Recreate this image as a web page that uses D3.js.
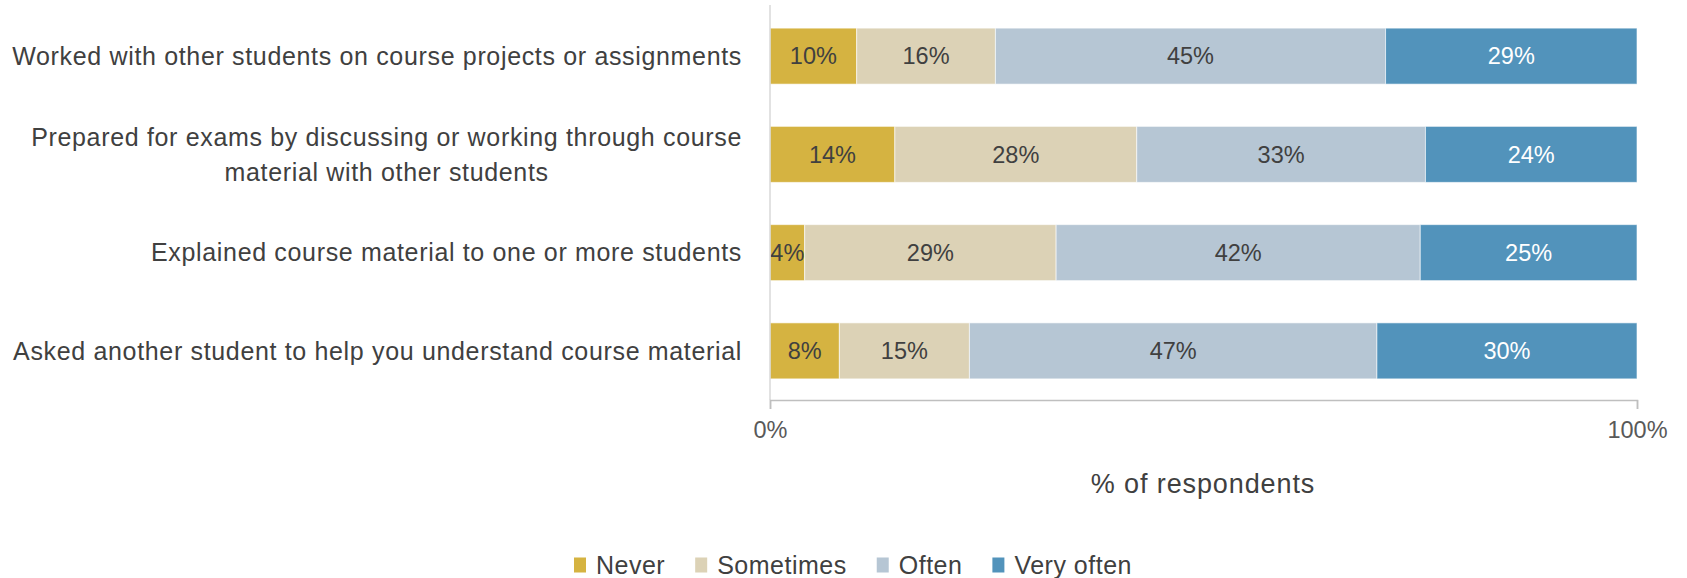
<!DOCTYPE html>
<html>
<head>
<meta charset="utf-8">
<script src="https://cdn.jsdelivr.net/npm/d3@7"></script>
<style>
  html, body { margin: 0; padding: 0; background: #fff; }
  svg { display: block; }
  text { font-family: "Liberation Sans", Arial, sans-serif; }
</style>
</head>
<body>
<svg id="chart" width="1687" height="578"></svg>
<script>
// Survey items, top to bottom; an array entry per wrapped line
const categories = [
  ["Worked with other students on course projects or assignments"],
  ["Prepared for exams by discussing or working through course", "material with other students"],
  ["Explained course material to one or more students"],
  ["Asked another student to help you understand course material"]
];
const seriesNames = ["Never", "Sometimes", "Often", "Very often"];
// shares in percent; labels show the rounded share
const never     = [10, 14.4, 4, 8];
const sometimes = [16, 27.9, 29, 15];
const often     = [45, 33.3, 42, 47];
const veryOften = [29, 24.4, 25, 30];
const seriesColors = ["#D5B341", "#DCD2B6", "#B6C6D4", "#5293BB"];
const labelColors  = ["#404040", "#404040", "#404040", "#ffffff"];
const xTicks = [0, 100];
const xTickLabels = ["0%", "100%"];
const xTitle = "% of respondents";

const svg = d3.select("#chart");
const plot = { left: 770, right: 1637, top: 7, bottom: 400 };

const x = d3.scaleLinear().domain([0, 100]).range([plot.left, plot.right]);
const y = d3.scaleBand()
  .domain(d3.range(categories.length))
  .range([plot.top, plot.bottom])
  .paddingInner(0.43)
  .paddingOuter(0.215);

const rows = categories.map((c, i) => ({
  idx: i,
  Never: never[i], Sometimes: sometimes[i], Often: often[i], "Very often": veryOften[i]
}));
const stacked = d3.stack().keys(seriesNames)(rows);

// stacked bars
const groups = svg.append("g").selectAll("g")
  .data(stacked).join("g")
  .attr("fill", (d, i) => seriesColors[i]);

groups.selectAll("rect")
  .data(d => d)
  .join("rect")
  .attr("x", d => x(d[0]))
  .attr("y", d => y(d.data.idx))
  .attr("width", d => x(d[1]) - x(d[0]))
  .attr("height", y.bandwidth())
  .attr("stroke", "#ffffff")
  .attr("stroke-opacity", 0.6)
  .attr("stroke-width", 1);

// value labels centred in each segment
stacked.forEach((s, si) => {
  svg.append("g").selectAll("text")
    .data(s).join("text")
    .attr("x", d => (x(d[0]) + x(d[1])) / 2)
    .attr("y", d => y(d.data.idx) + y.bandwidth() / 2)
    .attr("dy", "0.35em")
    .attr("text-anchor", "middle")
    .attr("font-size", 23.5)
    .attr("fill", labelColors[si])
    .text(d => Math.round(d[1] - d[0]) + "%");
});

// vertical category axis line
svg.append("line")
  .attr("x1", plot.left).attr("x2", plot.left)
  .attr("y1", 5).attr("y2", plot.bottom)
  .attr("stroke", "#d9d9d9").attr("stroke-width", 1.5);

// bottom value axis
const xAxis = d3.axisBottom(x)
  .tickValues(xTicks)
  .tickFormat((d, i) => xTickLabels[i])
  .tickSizeOuter(0)
  .tickSize(9)
  .tickPadding(12);
const gx = svg.append("g")
  .attr("transform", `translate(0,${plot.bottom})`)
  .call(xAxis);
gx.select(".domain").attr("stroke", "#bfbfbf").attr("stroke-width", 1.5);
gx.selectAll(".tick line").attr("stroke", "#bfbfbf").attr("stroke-width", 1.5);
gx.selectAll(".tick text")
  .attr("font-family", "Liberation Sans, Arial, sans-serif")
  .attr("font-size", 23.5)
  .attr("fill", "#595959");

// axis title
svg.append("text")
  .attr("x", 1203).attr("y", 484)
  .attr("dy", "0.35em")
  .attr("text-anchor", "middle")
  .attr("font-size", 27)
  .attr("letter-spacing", 0.9)
  .attr("fill", "#404040")
  .text(xTitle);

// category labels: wrapped lines centred on each other, block right-aligned
const labelRight = 742;
const lineGap = 35;
categories.forEach((lines, i) => {
  const cy = y(i) + y.bandwidth() / 2;
  const g = svg.append("g");
  const texts = lines.map((ln, k) => g.append("text")
    .attr("font-size", 25)
    .attr("letter-spacing", 0.66)
    .attr("fill", "#404040")
    .attr("text-anchor", "middle")
    .attr("dy", "0.35em")
    .attr("y", cy + (k - (lines.length - 1) / 2) * lineGap)
    .text(ln));
  const maxW = d3.max(texts, t => t.node().getComputedTextLength());
  texts.forEach(t => t.attr("x", labelRight - maxW / 2));
});

// legend
const legend = svg.append("g").attr("transform", "translate(574,565)");
let lx = 0;
seriesNames.forEach((name, i) => {
  legend.append("rect")
    .attr("x", lx).attr("y", -7.5)
    .attr("width", 12).attr("height", 15)
    .attr("fill", seriesColors[i]);
  const t = legend.append("text")
    .attr("x", lx + 22).attr("y", 0)
    .attr("dy", "0.35em")
    .attr("font-size", 25)
    .attr("letter-spacing", 0.5)
    .attr("fill", "#404040")
    .text(name);
  lx += 22 + t.node().getComputedTextLength() + 30;
});
</script>
</body>
</html>
